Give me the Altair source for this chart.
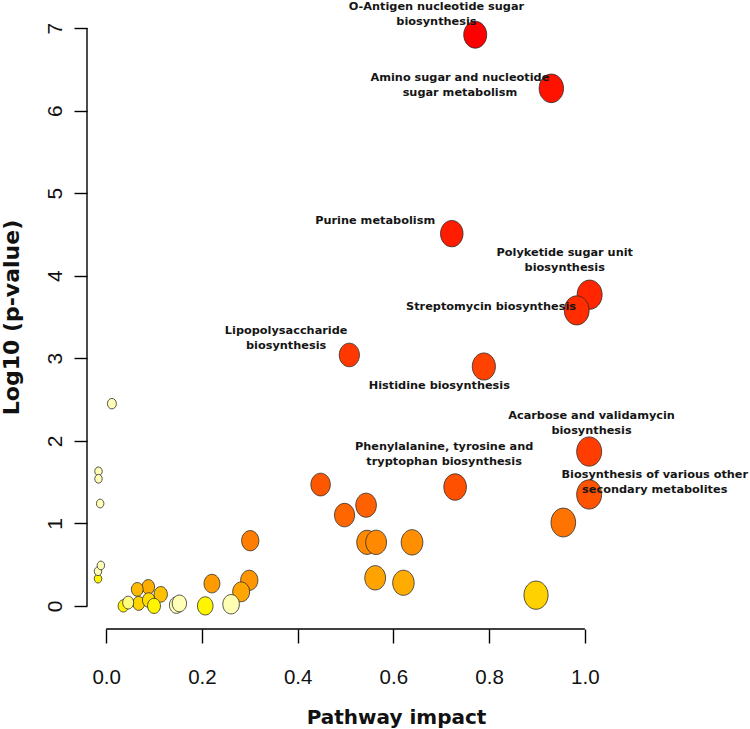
import altair as alt
import pandas as pd

# ---- data ----
impact = [0.771, 0.930, 0.722, 1.010, 0.983, 0.508, 0.789, 1.009, 0.448, 0.729,
          1.009, 0.543, 0.498, 0.955, 0.301, 0.545, 0.564, 0.639, 0.299, 0.221,
          0.562, 0.621, 0.282, 0.088, 0.065, 0.114, 0.898, 0.068, 0.089, 0.036,
          0.100, 0.207, -0.017, 0.046, 0.147, 0.153, 0.261, 0.012, -0.016, -0.016,
          -0.0125, -0.011, -0.017]
logp = [6.92, 6.27, 4.51, 3.77, 3.58, 3.04, 2.90, 1.87, 1.47, 1.44,
        1.35, 1.22, 1.10, 1.01, 0.79, 0.77, 0.77, 0.77, 0.31, 0.27,
        0.34, 0.28, 0.17, 0.23, 0.20, 0.14, 0.13, 0.03, 0.07, 0.00,
        0.00, 0.00, 0.33, 0.04, 0.01, 0.03, 0.02, 2.45, 1.63, 1.54,
        1.24, 0.49, 0.42]
# position of each point along the heat palette (0 = red ... 1 = pale yellow)
heat = [0.00, 0.01, 0.02, 0.03, 0.04, 0.06, 0.08, 0.07, 0.13, 0.11,
        0.12, 0.155, 0.17, 0.21, 0.24, 0.28, 0.28, 0.30, 0.32, 0.34,
        0.37, 0.40, 0.38, 0.41, 0.45, 0.48, 0.54, 0.55, 0.58, 0.68,
        0.68, 0.68, 0.68, 0.85, 0.96, 0.96, 0.95, 0.96, 0.96, 0.96,
        0.96, 0.96, 0.95]

label_text = [
    "O-Antigen nucleotide sugar\nbiosynthesis",
    "Amino sugar and nucleotide\nsugar metabolism",
    "Purine metabolism",
    "Polyketide sugar unit\nbiosynthesis",
    "Streptomycin biosynthesis",
    "Lipopolysaccharide\nbiosynthesis",
    "Histidine biosynthesis",
    "Acarbose and validamycin\nbiosynthesis",
    "Phenylalanine, tyrosine and\ntryptophan biosynthesis",
    "Biosynthesis of various other\nsecondary metabolites",
]
label_x = [0.690, 0.739, 0.562, 0.958, 0.804, 0.376, 0.696, 1.014, 0.706, 1.146]
label_y = [7.25, 6.39, 4.66, 4.27, 3.62, 3.33, 2.66, 2.30, 1.92, 1.585]

x_ticks = [0.0, 0.2, 0.4, 0.6, 0.8, 1.0]
y_ticks = [0, 1, 2, 3, 4, 5, 6, 7]

pts = pd.DataFrame({"impact": impact, "logp": logp, "heat": heat})
labs = pd.DataFrame({"label": label_text, "lx": label_x, "ly": label_y})

W, H = 517, 624
xscale = alt.Scale(domain=[-0.04, 1.04], nice=False, zero=False)
yscale = alt.Scale(domain=[-0.28, 7.28], nice=False, zero=False)

ellipse = ("M 1 0 C 1 0.646 0.5523 1.17 0 1.17 C -0.5523 1.17 -1 0.646 -1 0 "
           "C -1 -0.646 -0.5523 -1.17 0 -1.17 C 0.5523 -1.17 1 -0.646 1 0 Z")

tick_font = "Liberation Sans, Arial, sans-serif"

points = alt.Chart(pts).mark_point(
    shape=ellipse, filled=True, opacity=1, stroke="#2b2b2b", strokeWidth=0.8
).encode(
    x=alt.X("impact:Q", scale=xscale, axis=alt.Axis(
        values=x_ticks, format=".1f", domain=False, grid=False,
        tickSize=14, tickWidth=1.4, tickColor="black",
        labelFont=tick_font, labelFontSize=20.5, labelColor="#111",
        labelPadding=24, labelBaseline="top",
        title="Pathway impact", titleFont="DejaVu Sans", titleFontWeight="bold",
        titleFontSize=20, titleColor="#111", titleX=309, titleY=94,
        titleAlign="center", titleBaseline="alphabetic")),
    y=alt.Y("logp:Q", scale=yscale, axis=alt.Axis(
        values=y_ticks, format="d", domain=False, grid=False,
        tickSize=13, tickWidth=1.4, tickColor="black",
        labelFont=tick_font, labelFontSize=21, labelColor="#111",
        labelAngle=270, labelAlign="center", labelBaseline="alphabetic",
        labelPadding=13,
        title="Log10 (p-value)", titleFont="DejaVu Sans", titleFontWeight="bold",
        titleFontSize=22, titleColor="#111", titleAngle=270,
        titleX=-69, titleY=312, titleAlign="center", titleBaseline="alphabetic")),
    size=alt.Size("impact:Q", scale=alt.Scale(type="pow", exponent=0.71,
                                              domain=[0, 1], range=[56, 625],
                                              clamp=True), legend=None),
    color=alt.Color("heat:Q", scale=alt.Scale(domain=[0, 0.72, 1],
                                              range=["#FF0000", "#FFFF00", "#FFFFCC"]),
                    legend=None),
    order=alt.Order("heat:Q", sort="ascending"),
)

text = alt.Chart(labs).mark_text(
    font="DejaVu Sans", fontWeight="bold", fontSize=11.3, color="#151515",
    lineBreak="\n", lineHeight=14.5, align="center", baseline="middle"
).encode(
    x=alt.X("lx:Q", scale=xscale),
    y=alt.Y("ly:Q", scale=yscale),
    text="label:N",
)

xaxis_line = alt.Chart(pd.DataFrame({"a": [x_ticks[0]], "b": [x_ticks[-1]]})).mark_rule(
    color="black", strokeWidth=1.4
).encode(x=alt.X("a:Q", scale=xscale), x2="b:Q", y=alt.value(H))

yaxis_line = alt.Chart(pd.DataFrame({"a": [y_ticks[0]], "b": [y_ticks[-1]]})).mark_rule(
    color="black", strokeWidth=1.4
).encode(y=alt.Y("a:Q", scale=yscale), y2="b:Q", x=alt.value(0))

chart = alt.layer(points, xaxis_line, yaxis_line, text).properties(
    width=W, height=H,
    autosize=alt.AutoSizeParams(type="none"),
    padding={"left": 87, "top": 5, "right": 146, "bottom": 100},
    background="white",
).configure_view(stroke=None)

chart.save("out.html", embed_options={"renderer": "svg", "actions": False})
